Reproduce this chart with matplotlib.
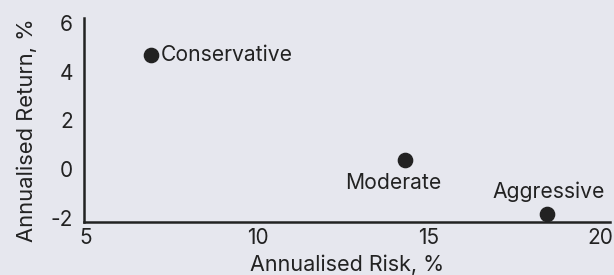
import matplotlib
matplotlib.use("Agg")
import matplotlib.pyplot as plt

names = ["Conservative", "Moderate", "Aggressive"]
risk = [6.9, 14.3, 18.45]
ret = [4.7, 0.4, -1.85]
xticks = [5, 10, 15, 20]
yticks = [-2, 0, 2, 4, 6]

bg = "#e6e7ee"
fg = "#222222"
plt.rcParams['font.family'] = ['Inter', 'DejaVu Sans']
plt.rcParams['axes.unicode_minus'] = False

fig = plt.figure(figsize=(6.14, 2.75), dpi=100, facecolor=bg)
ax = fig.add_axes([84/614, 1-222/275, (610-84)/614, (222-18)/275], facecolor=bg)
ax.scatter(risk, ret, s=105, color=fg, zorder=3, clip_on=False)

offsets = {"Conservative": ((7, 0), "left", "center"),
           "Moderate": ((-8, -10), "center", "top"),
           "Aggressive": ((1, 9), "center", "bottom")}
for n, x, y in zip(names, risk, ret):
    off, ha, va = offsets[n]
    ax.annotate(n, (x, y), xytext=off, textcoords="offset points",
                ha=ha, va=va, fontsize=15.2, color=fg)

ax.set_xlim(4.94, 20.29)
ax.set_ylim(-2.16, 6.2)
ax.set_xticks(xticks)
ax.set_yticks(yticks)
ax.tick_params(length=0, labelsize=15, colors=fg, pad=4)
ax.tick_params(axis='y', pad=8)
for s in ["top", "right"]:
    ax.spines[s].set_visible(False)
for s in ["left", "bottom"]:
    ax.spines[s].set_color(fg)
    ax.spines[s].set_linewidth(1.8)
ax.set_xlabel("Annualised Risk, %", fontsize=15.5, color=fg)
ax.set_ylabel("Annualised Return, %", fontsize=15.8, color=fg)
# label positions in axes fraction
ax.xaxis.set_label_coords(0.5, -(265 - 222) / 204, transform=ax.transAxes)
ax.xaxis.label.set_va("center")
ax.yaxis.set_label_coords(-(84 - 27) / 526, (222 - 130) / 204, transform=ax.transAxes)
ax.yaxis.label.set_va("center")

fig.savefig("out.png", dpi=100, facecolor=bg)
